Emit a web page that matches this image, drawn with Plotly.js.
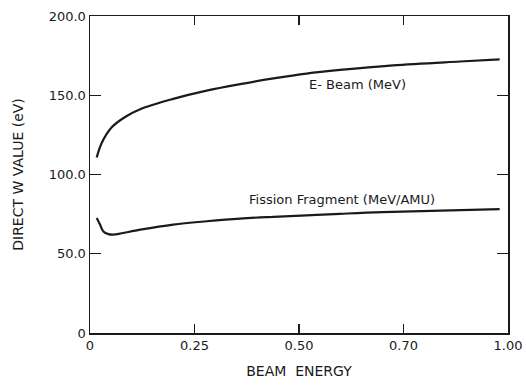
<!DOCTYPE html>
<html>
<head>
<meta charset="utf-8">
<script src="https://cdn.plot.ly/plotly-3.0.1.min.js"></script>
<style>html,body{margin:0;padding:0;background:#fff;}#chart{width:526px;height:386px;}</style>
</head>
<body>
<div id="chart"></div>
<script>
// E-Beam (MeV) curve
var ebeamX = [0.016, 0.028, 0.052, 0.084, 0.12, 0.199, 0.279, 0.359, 0.439, 0.518, 0.598, 0.725, 0.885, 0.98];
var ebeamY = [110.7, 119.9, 129.8, 136.3, 141.2, 147.7, 152.9, 157.0, 160.6, 163.7, 166.0, 168.9, 171.3, 172.6];
// Fission Fragment (MeV/AMU) curve
var fissionX = [0.016, 0.024, 0.032, 0.044, 0.056, 0.12, 0.199, 0.279, 0.359, 0.439, 0.518, 0.598, 0.70, 0.98];
var fissionY = [72.6, 68.4, 64.1, 62.4, 62.1, 65.2, 68.4, 70.5, 72.2, 73.3, 74.2, 75.2, 76.3, 78.2];

var xTickVals = [0, 0.25, 0.5, 0.75, 1.0];
var xTickText = ["0", "0.25", "0.50", "0.70", "1.00"];
var yTickVals = [0, 50, 100, 150, 200];
var yTickText = ["0", "50.0", "100.0", "150.0", "200.0"];

var curveLabels = [
  {text: "E- Beam (MeV)", x: 0.64, y: 157},
  {text: "Fission Fragment (MeV/AMU)", x: 0.604, y: 84.4}
];

var FONT = "DejaVu Sans, Arial, sans-serif";
var INK = "#1a1a1a";

var traces = [
  {x: ebeamX, y: ebeamY, mode: "lines", line: {color: INK, width: 2.2, shape: "spline"}, hoverinfo: "skip"},
  {x: fissionX, y: fissionY, mode: "lines", line: {color: INK, width: 2.2, shape: "spline"}, hoverinfo: "skip"}
];

var layout = {
  width: 526, height: 386,
  margin: {l: 90, r: 18, t: 16, b: 53},
  paper_bgcolor: "#fff", plot_bgcolor: "#fff",
  showlegend: false,
  font: {family: FONT, size: 14, color: INK},
  xaxis: {
    range: [0, 1], tickmode: "array", tickvals: xTickVals, ticktext: xTickText,
    ticks: "inside", ticklen: 9, tickwidth: 1.3, tickcolor: INK,
    showline: true, linecolor: INK, linewidth: 1.5, mirror: "ticks",
    showgrid: false, zeroline: false,
    tickfont: {family: FONT, size: 13, color: INK},
    title: {text: "BEAM  ENERGY", font: {family: FONT, size: 14, color: INK}, standoff: 14}
  },
  yaxis: {
    range: [0, 200], tickmode: "array", tickvals: yTickVals, ticktext: yTickText,
    ticks: "inside", ticklen: 11, tickwidth: 1.3, tickcolor: INK,
    showline: true, linecolor: INK, linewidth: 1.5, mirror: "ticks",
    showgrid: false, zeroline: false,
    tickfont: {family: FONT, size: 13, color: INK},
    title: {text: "DIRECT W VALUE (eV)", font: {family: FONT, size: 14, color: INK}, standoff: 22}
  },
  annotations: curveLabels.map(function (c) {
    return {text: c.text, x: c.x, y: c.y, xref: "x", yref: "y", showarrow: false,
            font: {family: FONT, size: 13, color: INK}};
  })
};

Plotly.newPlot("chart", traces, layout, {displayModeBar: false, staticPlot: true});
</script>
</body>
</html>
